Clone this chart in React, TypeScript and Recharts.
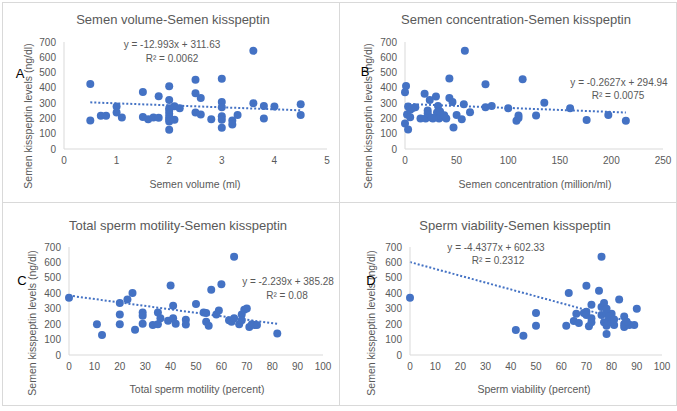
import { ScatterChart, Scatter, XAxis, YAxis, ReferenceLine } from "recharts";

const BLUE = "#4472C4";
const GREY_TEXT = "#595959";
const FONT = "'Liberation Sans', Arial, sans-serif";

const kissTicks = [0, 100, 200, 300, 400, 500, 600, 700];

// A: semen volume (ml)
const volumeX = [0.5, 0.5, 0.7, 0.8, 1.0, 1.0, 1.1, 1.5, 1.5, 1.6, 1.7, 1.8, 1.8, 2.0, 2.0, 2.0, 2.0, 2.0, 2.0, 2.0, 2.0, 2.0, 2.1, 2.1, 2.2, 2.5, 2.5, 2.5, 2.6, 2.6, 2.8, 3.0, 3.0, 3.0, 3.0, 3.0, 3.0, 3.2, 3.2, 3.3, 3.6, 3.6, 3.8, 3.8, 4.0, 4.5, 4.5];
const volumeKiss = [425, 187, 217, 217, 278, 239, 206, 373, 210, 195, 206, 345, 204, 410, 321, 267, 250, 230, 210, 195, 180, 126, 280, 191, 267, 453, 364, 239, 334, 226, 195, 460, 308, 273, 215, 191, 139, 187, 160, 223, 642, 299, 282, 200, 278, 293, 223];
const volumeTicks = [0, 1, 2, 3, 4, 5];

// B: semen concentration (million/ml)
const concX = [0, 1, 0, 3, 3, 2, 5, 5, 10, 7, 15, 19, 20, 22, 24, 27, 30, 31, 32, 33, 35, 37, 40, 43, 43, 46, 47, 50, 55, 58, 57, 63, 78, 78, 84, 100, 108, 110, 110, 114, 127, 135, 160, 176, 197, 214, 22, 26, 34, 38];
const concKiss = [371, 412, 167, 128, 278, 226, 208, 256, 273, 267, 200, 362, 200, 234, 321, 200, 343, 239, 282, 200, 213, 213, 200, 462, 334, 308, 141, 223, 195, 642, 293, 241, 423, 273, 282, 267, 184, 202, 219, 456, 219, 302, 267, 189, 223, 184, 252, 205, 245, 220];
const concTicks = [0, 50, 100, 150, 200, 250];

// C: total sperm motility (percent)
const motilityX = [0, 11, 13, 20, 20, 20, 23, 25, 26, 29, 29, 29, 33, 35, 35, 36, 39, 40, 41, 41, 42, 46, 46, 50, 53, 54, 54, 55, 56, 58, 59, 60, 63, 64, 65, 65, 67, 68, 68, 69, 70, 71, 72, 73, 74, 82];
const motilityKiss = [371, 199, 130, 337, 263, 199, 359, 402, 164, 276, 255, 203, 194, 276, 199, 238, 222, 451, 320, 238, 203, 229, 197, 330, 276, 272, 216, 190, 423, 263, 289, 458, 225, 216, 637, 238, 199, 263, 225, 294, 302, 181, 199, 194, 194, 140];

// D: sperm viability (percent)
const viabilityX = [0, 42, 45, 50, 50, 62, 63, 65, 66, 67, 69, 70, 70, 70, 71, 72, 72, 72, 75, 76, 76, 76, 77, 77, 78, 78, 78, 79, 80, 80, 81, 83, 85, 85, 85, 87, 89, 90, 78, 79, 81, 86];
const viabilityKiss = [371, 162, 125, 272, 190, 190, 402, 220, 268, 207, 272, 281, 449, 259, 186, 212, 238, 326, 417, 637, 311, 259, 337, 212, 272, 136, 190, 238, 268, 212, 194, 359, 250, 201, 181, 194, 194, 300, 300, 250, 230, 215];
const percentTicks = [0, 10, 20, 30, 40, 50, 60, 70, 80, 90, 100];

const toPoints = (xs: number[], ys: number[]) => xs.map((x, i) => ({ x, y: ys[i] }));

type Pos = [number, number];

interface PanelProps {
  left: number;
  top: number;
  width: number;
  height: number;
  margin: { top: number; right: number; bottom: number; left: number };
  xTicks: number[];
  xs: number[];
  ys: number[];
  slope: number;
  intercept: number;
  fitFrom: number;
  fitTo: number;
  title: string;
  xLabel: string;
  letter: string;
  equation: string;
  r2: string;
  titlePos: Pos;
  xLabelPos: Pos;
  yLabelPos: Pos;
  letterPos: Pos;
  eqPos: Pos;
  r2Pos: Pos;
}

function Txt({ pos, children, size, color, rotate }: { pos: Pos; children: string; size: number; color: string; rotate?: boolean }) {
  return (
    <div
      style={{
        position: "absolute",
        left: pos[0],
        top: pos[1],
        transform: `translate(-50%, -50%)${rotate ? " rotate(-90deg)" : ""}`,
        whiteSpace: "nowrap",
        fontSize: size,
        color,
        fontFamily: FONT,
        lineHeight: 1,
      }}
    >
      {children}
    </div>
  );
}

// y tick label drawn at the tick position recharts hands us
function YTick(props: any) {
  const { x, y, payload } = props;
  return (
    <text x={x} y={y} dy={3.5} textAnchor="end" fontSize={10} fill={GREY_TEXT} fontFamily={FONT}>
      {payload.value}
    </text>
  );
}

function Panel(p: PanelProps) {
  const data = toPoints(p.xs, p.ys);
  const xMax = p.xTicks[p.xTicks.length - 1];
  return (
    <div
      style={{
        position: "absolute",
        left: p.left,
        top: p.top,
        width: p.width,
        height: p.height,
        border: "1px solid #d9d9d9",
        boxSizing: "border-box",
        background: "#fff",
      }}
    >
      <div style={{ position: "absolute", left: -1, top: -1 }}>
        <ScatterChart width={p.width} height={p.height} margin={p.margin}>
          <XAxis
            type="number"
            dataKey="x"
            domain={[0, xMax]}
            ticks={p.xTicks}
            interval={0}
            height={30}
            tickLine={false}
            axisLine={{ stroke: "#d9d9d9" }}
            tick={{ fontSize: 10, fill: GREY_TEXT, fontFamily: FONT }}
          />
          <YAxis
            type="number"
            dataKey="y"
            domain={[0, 700]}
            ticks={kissTicks}
            tickCount={8}
            interval={0}
            minTickGap={-20}
            width={40}
            tickLine={false}
            axisLine={{ stroke: "#d9d9d9" }}
            tick={<YTick />}
          />
          <Scatter data={data} fill={BLUE} isAnimationActive={false} shape={(s: any) => <circle cx={s.cx} cy={s.cy} r={4} fill={BLUE} />} />
          <ReferenceLine
            segment={[
              { x: p.fitFrom, y: p.slope * p.fitFrom + p.intercept },
              { x: p.fitTo, y: p.slope * p.fitTo + p.intercept },
            ]}
            stroke={BLUE}
            strokeWidth={2}
            strokeDasharray="2 2"
          />
        </ScatterChart>
      </div>
      <Txt pos={p.titlePos} size={13} color={GREY_TEXT}>{p.title}</Txt>
      <Txt pos={p.xLabelPos} size={10.5} color={GREY_TEXT}>{p.xLabel}</Txt>
      <Txt pos={p.yLabelPos} size={10.5} color={GREY_TEXT} rotate>Semen kisspeptin levels (ng/dl)</Txt>
      <Txt pos={p.eqPos} size={10} color={GREY_TEXT}>{p.equation}</Txt>
      <Txt pos={p.r2Pos} size={10} color={GREY_TEXT}>{p.r2}</Txt>
      <Txt pos={p.letterPos} size={13} color="#000">{p.letter}</Txt>
    </div>
  );
}

export default function App() {
  return (
    <div style={{ position: "absolute", left: 0, top: 0, width: 677, height: 411, background: "#fff" }}>
      <Panel
        left={2} top={2} width={338} height={201}
        margin={{ top: 40, right: 13, bottom: 24, left: 22 }}
        xTicks={volumeTicks} xs={volumeX} ys={volumeKiss}
        slope={-12.993} intercept={311.63} fitFrom={0.5} fitTo={4.5}
        title="Semen volume-Semen kisspeptin" xLabel="Semen volume (ml)" letter="A"
        equation="y = -12.993x + 311.63" r2="R² = 0.0062"
        titlePos={[170, 16]} xLabelPos={[192, 181]} yLabelPos={[25, 113]}
        letterPos={[17, 70]} eqPos={[169, 42]} r2Pos={[169, 56]}
      />
      <Panel
        left={339} top={2} width={338} height={201}
        margin={{ top: 40, right: 14, bottom: 24, left: 26 }}
        xTicks={concTicks} xs={concX} ys={concKiss}
        slope={-0.2627} intercept={294.94} fitFrom={0} fitTo={214}
        title="Semen concentration-Semen kisspeptin" xLabel="Semen concentration (million/ml)" letter="B"
        equation="y = -0.2627x + 294.94" r2="R² = 0.0075"
        titlePos={[176, 16]} xLabelPos={[195, 181]} yLabelPos={[28, 113]}
        letterPos={[25, 68]} eqPos={[279, 80]} r2Pos={[278, 93]}
      />
      <Panel
        left={2} top={202} width={338} height={204}
        margin={{ top: 45, right: 17, bottom: 21, left: 27 }}
        xTicks={percentTicks} xs={motilityX} ys={motilityKiss}
        slope={-2.239} intercept={385.28} fitFrom={0} fitTo={82}
        title="Total sperm motility-Semen kisspeptin" xLabel="Total sperm motility (percent)" letter="C"
        equation="y = -2.239x + 385.28" r2="R² = 0.08"
        titlePos={[175, 22]} xLabelPos={[194, 186]} yLabelPos={[29, 120]}
        letterPos={[19, 77]} eqPos={[285, 79]} r2Pos={[284, 93]}
      />
      <Panel
        left={339} top={202} width={338} height={204}
        margin={{ top: 45, right: 15, bottom: 21, left: 31 }}
        xTicks={percentTicks} xs={viabilityX} ys={viabilityKiss}
        slope={-4.4377} intercept={602.33} fitFrom={0} fitTo={90}
        title="Sperm viability-Semen kisspeptin" xLabel="Sperm viability (percent)" letter="D"
        equation="y = -4.4377x + 602.33" r2="R² = 0.2312"
        titlePos={[175, 22]} xLabelPos={[194, 186]} yLabelPos={[31, 120]}
        letterPos={[31, 77]} eqPos={[156, 45]} r2Pos={[158, 58]}
      />
    </div>
  );
}
